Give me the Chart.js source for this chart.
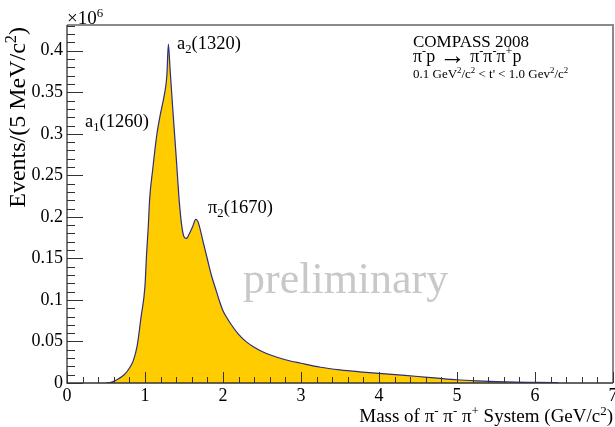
<!DOCTYPE html>
<html>
<head>
<meta charset="utf-8">
<script src="https://cdn.jsdelivr.net/npm/chart.js@4/dist/chart.umd.min.js"></script>
<style>
  body { margin: 0; background: #fff; }
  #wrap { width: 615px; height: 427px; }
</style>
</head>
<body>
<div id="wrap"><canvas id="massChart"></canvas></div>
<script>
// 3pi invariant mass spectrum (GeV/c^2, events in units of 10^6)
var massGeV = [0.50, 0.55, 0.60, 0.65, 0.70, 0.75, 0.80, 0.85, 0.90, 0.95,
               1.00, 1.02, 1.04, 1.06, 1.10, 1.15, 1.20, 1.25, 1.28, 1.30,
               1.32, 1.35, 1.40, 1.44, 1.47, 1.50, 1.53, 1.57, 1.61, 1.65,
               1.68, 1.75, 1.80, 1.85, 1.90, 1.95, 2.00, 2.05, 2.10, 2.20,
               2.30, 2.40, 2.50, 2.60, 2.80, 3.00, 3.25, 3.50, 3.75, 4.00,
               4.25, 4.50, 4.75, 5.00, 5.25, 5.50, 5.75, 6.00, 6.30];
var events = [0.0000, 0.0004, 0.0020, 0.0045, 0.0075, 0.0115, 0.0180, 0.0270, 0.0450, 0.0800,
              0.1170, 0.1550, 0.1850, 0.2220, 0.2580, 0.2980, 0.3250, 0.3480, 0.3700, 0.4080,
              0.3800, 0.3380, 0.2720, 0.2180, 0.1900, 0.1760, 0.1740, 0.1800, 0.1880, 0.1970,
              0.1940, 0.1680, 0.1490, 0.1300, 0.1150, 0.1000, 0.0870, 0.0785, 0.0710, 0.0585,
              0.0495, 0.0430, 0.0380, 0.0340, 0.0280, 0.0238, 0.0190, 0.0158, 0.0135, 0.0116,
              0.0097, 0.0078, 0.0058, 0.0039, 0.0026, 0.0016, 0.0010, 0.0007, 0.0003];

var xTicks = [0, 1, 2, 3, 4, 5, 6, 7];
var yTicks = [0, 0.05, 0.1, 0.15, 0.2, 0.25, 0.3, 0.35, 0.4];
var yTickLabels = ['0', '0.05', '0.1', '0.15', '0.2', '0.25', '0.3', '0.35', '0.4'];

var SERIF = '"Liberation Serif", "Times New Roman", serif';

// draw text made of pieces, some raised or lowered like ROOT's #^{} and #_{}
// a piece may also carry its own size (z) and vertical shift (dy)
function richText(ctx, parts, x, y, size, align) {
    var small = size * 0.68;
    function fontOf(p) { return (p.z || (p.s ? small : size)) + 'px ' + SERIF; }
    var total = 0;
    parts.forEach(function(p) {
        ctx.font = fontOf(p);
        total += ctx.measureText(p.t).width;
    });
    var cx = align === 'right' ? x - total : x;
    ctx.textAlign = 'left';
    ctx.textBaseline = 'alphabetic';
    parts.forEach(function(p) {
        ctx.font = fontOf(p);
        var dy = p.s === 'sup' ? -size * 0.38 : (p.s === 'sub' ? size * 0.24 : 0);
        ctx.fillText(p.t, cx, y + dy + (p.dy || 0));
        cx += ctx.measureText(p.t).width;
    });
}

var rootFrame = {
    id: 'rootFrame',
    afterDraw: function(chart) {
        var ctx = chart.ctx;
        var a = chart.chartArea;
        var sx = chart.scales.x, sy = chart.scales.y;
        ctx.save();

        // grey top/right frame
        ctx.strokeStyle = '#8a8a8a';
        ctx.lineWidth = 2;
        ctx.beginPath();
        ctx.moveTo(a.left, a.top);
        ctx.lineTo(a.right, a.top);
        ctx.lineTo(a.right, a.bottom);
        ctx.stroke();

        // axes
        ctx.strokeStyle = '#333';
        ctx.lineWidth = 1.3;
        ctx.beginPath();
        ctx.moveTo(a.left, a.top);
        ctx.lineTo(a.left, a.bottom);
        ctx.lineTo(a.right, a.bottom);
        ctx.stroke();

        // x ticks, inside the frame
        ctx.lineWidth = 1;
        ctx.beginPath();
        for (var i = 0; i <= 35; i++) {
            var v = i * 0.2;
            var px = Math.round(sx.getPixelForValue(v)) + 0.5;
            var len = (i % 5 === 0) ? 11 : 6;
            ctx.moveTo(px, a.bottom);
            ctx.lineTo(px, a.bottom - len);
        }
        // y ticks
        for (var j = 0; j <= 43; j++) {
            var w = j * 0.01;
            if (w > sy.max) break;
            var py = Math.round(sy.getPixelForValue(w)) + 0.5;
            var l2 = (j % 5 === 0) ? 16 : 8;
            ctx.moveTo(a.left, py);
            ctx.lineTo(a.left + l2, py);
        }
        ctx.stroke();

        // tick labels
        ctx.fillStyle = '#000';
        ctx.font = '18px ' + SERIF;
        ctx.textAlign = 'center';
        ctx.textBaseline = 'alphabetic';
        xTicks.forEach(function(t) {
            ctx.fillText(String(t), sx.getPixelForValue(t), 401);
        });
        ctx.textAlign = 'right';
        ctx.textBaseline = 'middle';
        yTicks.forEach(function(t, k) {
            ctx.fillText(yTickLabels[k], a.left - 4, sy.getPixelForValue(t));
        });

        // axis titles
        richText(ctx, [{t: 'Mass of \u03c0'}, {t: '-', s: 'sup'}, {t: ' \u03c0'}, {t: '-', s: 'sup'},
                       {t: ' \u03c0'}, {t: '+', s: 'sup'}, {t: ' System (GeV/c'}, {t: '2', s: 'sup'}, {t: ')'}],
                 a.right, 422, 19, 'right');
        ctx.save();
        ctx.translate(25, a.top + 2);
        ctx.rotate(-Math.PI / 2);
        richText(ctx, [{t: 'Events/(5 MeV/c'}, {t: '2', s: 'sup'}, {t: ')'}], 0, 0, 24, 'right');
        ctx.restore();

        richText(ctx, [{t: '\u00d710'}, {t: '6', s: 'sup'}], a.left, 24, 19, 'left');

        // resonance labels
        richText(ctx, [{t: 'a'}, {t: '2', s: 'sub'}, {t: '(1320)'}], 177, 49, 18.5, 'left');
        richText(ctx, [{t: 'a'}, {t: '1', s: 'sub'}, {t: '(1260)'}], 85, 127, 18.5, 'left');
        richText(ctx, [{t: '\u03c0'}, {t: '2', s: 'sub'}, {t: '(1670)'}], 208, 213, 18.5, 'left');

        // experiment box
        richText(ctx, [{t: 'COMPASS 2008'}], 413, 47, 17, 'left');
        richText(ctx, [{t: '\u03c0'}, {t: '-', s: 'sup'}, {t: 'p '}, {t: '\u2192', z: 26, dy: 2},
                       {t: ' \u03c0'}, {t: '-', s: 'sup'}, {t: '\u03c0'}, {t: '-', s: 'sup'},
                       {t: '\u03c0'}, {t: '+', s: 'sup'}, {t: 'p'}],
                 413, 62, 18, 'left');
        richText(ctx, [{t: '0.1 GeV'}, {t: '2', s: 'sup'}, {t: '/c'}, {t: '2', s: 'sup'},
                       {t: ' < t\' < 1.0 Gev'}, {t: '2', s: 'sup'}, {t: '/c'}, {t: '2', s: 'sup'}],
                 413, 78, 13, 'left');

        // watermark
        ctx.fillStyle = '#c8c8c8';
        ctx.font = '44px ' + SERIF;
        ctx.textAlign = 'left';
        ctx.textBaseline = 'alphabetic';
        ctx.fillText('preliminary', 243, 293);

        ctx.restore();
    }
};

var points = massGeV.map(function(m, i) { return {x: m, y: events[i]}; });

new Chart(document.getElementById('massChart'), {
    type: 'line',
    data: {
        datasets: [{
            label: '3pi mass',
            data: points,
            fill: 'origin',
            backgroundColor: '#ffcc00',
            borderColor: '#2c2c82',
            borderWidth: 1.2,
            pointRadius: 0,
            cubicInterpolationMode: 'monotone'
        }]
    },
    options: {
        responsive: true,
        maintainAspectRatio: false,
        animation: false,
        layout: { padding: { left: 67, right: 2, top: 25, bottom: 44 } },
        scales: {
            x: { type: 'linear', min: 0, max: 7, display: false },
            y: { type: 'linear', min: 0, max: 0.431, display: false }
        },
        plugins: {
            legend: { display: false },
            tooltip: { enabled: false }
        }
    },
    plugins: [rootFrame]
});
</script>
</body>
</html>
